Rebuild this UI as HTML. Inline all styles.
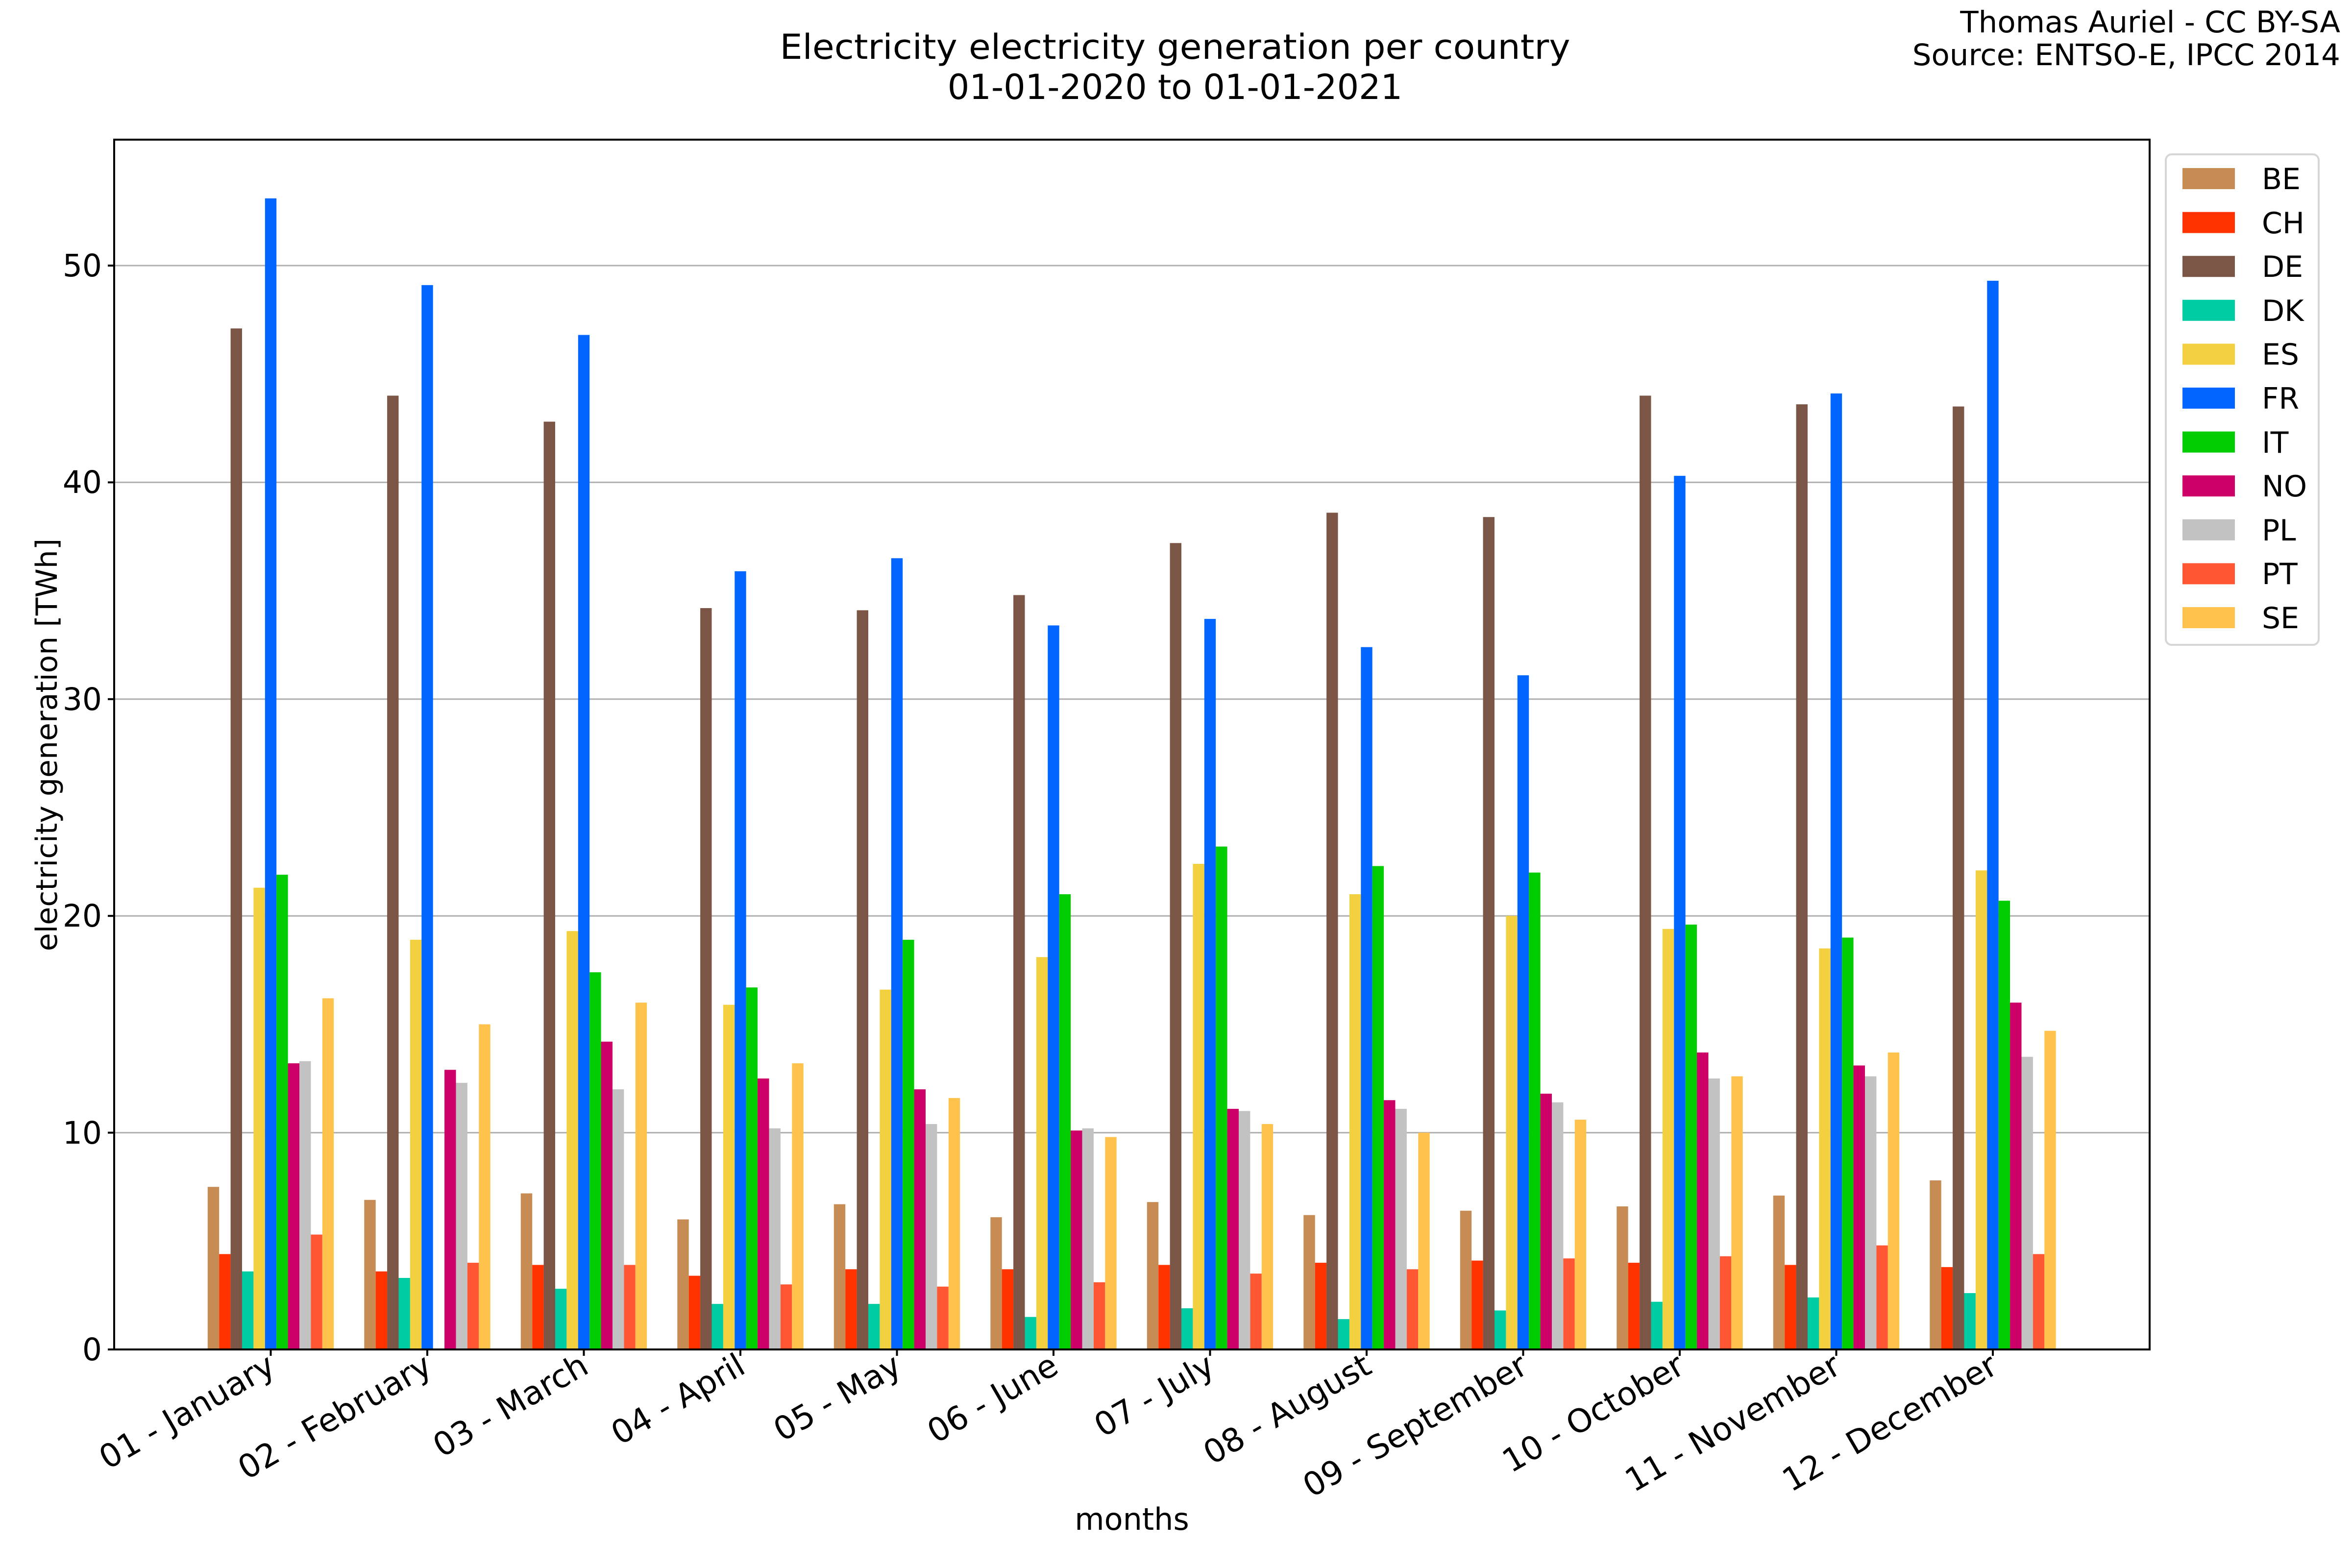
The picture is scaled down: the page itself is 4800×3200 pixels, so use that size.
<!DOCTYPE html>
<html><head><meta charset="utf-8"><style>html,body{margin:0;padding:0;background:#fff}svg{display:block}</style></head>
<body>
<svg id="s" xmlns="http://www.w3.org/2000/svg" width="4800" height="3200" viewBox="0 0 4800 3200" font-family="DejaVu Sans, Liberation Sans, sans-serif">
<rect width="4800" height="3200" fill="#fff"/>
<g stroke="#b0b0b0" stroke-width="3">
<line x1="233" x2="4387" y1="2311.6" y2="2311.6"/>
<line x1="233" x2="4387" y1="1869.2" y2="1869.2"/>
<line x1="233" x2="4387" y1="1426.8" y2="1426.8"/>
<line x1="233" x2="4387" y1="984.4" y2="984.4"/>
<line x1="233" x2="4387" y1="542" y2="542"/>
</g>
<g id="bars"></g>
<rect x="233" y="285" width="4154" height="2469" fill="none" stroke="#000" stroke-width="4"/>
<g stroke="#000" stroke-width="4">
<line x1="220" x2="233" y1="2754" y2="2754"/><line x1="220" x2="233" y1="2311.6" y2="2311.6"/><line x1="220" x2="233" y1="1869.2" y2="1869.2"/><line x1="220" x2="233" y1="1426.8" y2="1426.8"/><line x1="220" x2="233" y1="984.4" y2="984.4"/><line x1="220" x2="233" y1="542" y2="542"/>
</g>
<g font-size="63" text-anchor="end">
<text x="208" y="2776">0</text><text x="208" y="2334">10</text><text x="208" y="1891">20</text><text x="208" y="1449">30</text><text x="208" y="1006">40</text><text x="208" y="564">50</text>
</g>
<g id="xt" font-size="66" text-anchor="end">
<text transform="translate(566,2800) rotate(-30)">01 - January</text>
<text transform="translate(886,2800) rotate(-30)">02 - February</text>
<text transform="translate(1205,2800) rotate(-30)">03 - March</text>
<text transform="translate(1525,2800) rotate(-30)">04 - April</text>
<text transform="translate(1844,2800) rotate(-30)">05 - May</text>
<text transform="translate(2164,2800) rotate(-30)">06 - June</text>
<text transform="translate(2483,2800) rotate(-30)">07 - July</text>
<text transform="translate(2803,2800) rotate(-30)">08 - August</text>
<text transform="translate(3122,2800) rotate(-30)">09 - September</text>
<text transform="translate(3442,2800) rotate(-30)">10 - October</text>
<text transform="translate(3761,2800) rotate(-30)">11 - November</text>
<text transform="translate(4081,2800) rotate(-30)">12 - December</text>
</g>
<g stroke="#000" stroke-width="4" id="xtk"></g>
<text x="2310" y="3122" font-size="62" text-anchor="middle">months</text>
<text transform="translate(116,1520) rotate(-90)" font-size="60" text-anchor="middle">electricity generation [TWh]</text>
<text x="2398" y="120" font-size="70" text-anchor="middle" textLength="1613" lengthAdjust="spacingAndGlyphs">Electricity electricity generation per country</text>
<text x="2398" y="202" font-size="70" text-anchor="middle">01-01-2020 to 01-01-2021</text>
<text x="4776" y="66" font-size="61" text-anchor="end">Thomas Auriel - CC BY-SA</text>
<text x="4776" y="133" font-size="61" text-anchor="end">Source: ENTSO-E, IPCC 2014</text>
<rect x="4420" y="315" width="312" height="1001" rx="12" fill="#fff" stroke="#d6d6d6" stroke-width="4"/>
<g id="leg"></g>
<g font-size="60">
<text x="4616" y="386">BE</text><text x="4616" y="476">CH</text><text x="4616" y="565">DE</text><text x="4616" y="655">DK</text><text x="4616" y="744">ES</text><text x="4616" y="834">FR</text><text x="4616" y="924">IT</text><text x="4616" y="1013">NO</text><text x="4616" y="1103">PL</text><text x="4616" y="1192">PT</text><text x="4616" y="1282">SE</text>
</g>
</svg>
<script>
var C=["#c68c53","#ff3300","#7b5646","#00cca3","#f3d03f","#0066ff","#00cc00","#cc0066","#c2c2c2","#ff5733","#ffc24d"];
var D=[
[7.5,4.4,47.1,3.6,21.3,53.1,21.9,13.2,13.3,5.3,16.2],
[6.9,3.6,44.0,3.3,18.9,49.1,0,12.9,12.3,4.0,15.0],
[7.2,3.9,42.8,2.8,19.3,46.8,17.4,14.2,12.0,3.9,16.0],
[6.0,3.4,34.2,2.1,15.9,35.9,16.7,12.5,10.2,3.0,13.2],
[6.7,3.7,34.1,2.1,16.6,36.5,18.9,12.0,10.4,2.9,11.6],
[6.1,3.7,34.8,1.5,18.1,33.4,21.0,10.1,10.2,3.1,9.8],
[6.8,3.9,37.2,1.9,22.4,33.7,23.2,11.1,11.0,3.5,10.4],
[6.2,4.0,38.6,1.4,21.0,32.4,22.3,11.5,11.1,3.7,10.0],
[6.4,4.1,38.4,1.8,20.0,31.1,22.0,11.8,11.4,4.2,10.6],
[6.6,4.0,44.0,2.2,19.4,40.3,19.6,13.7,12.5,4.3,12.6],
[7.1,3.9,43.6,2.4,18.5,44.1,19.0,13.1,12.6,4.8,13.7],
[7.8,3.8,43.5,2.6,22.1,49.3,20.7,16.0,13.5,4.4,14.7]];
var NS="http://www.w3.org/2000/svg",b=document.getElementById("bars"),t=document.getElementById("xtk"),l=document.getElementById("leg");
function el(p,n,a){var e=document.createElementNS(NS,n);for(var k in a)e.setAttribute(k,a[k]);p.appendChild(e);}
var w=23.4;
for(var i=0;i<12;i++){var cx=233+319.5*(i+1);
 el(t,"line",{x1:cx,x2:cx,y1:2754,y2:2767});
 for(var k=0;k<11;k++){var v=D[i][k];if(!v)continue;var h=v*44.24;
  el(b,"rect",{x:cx+(k-5)*w-w/2,y:2754-h,width:w,height:h,fill:C[k]});}}
for(var k=0;k<11;k++)el(l,"rect",{x:4454,y:343+k*89.6,width:107,height:43,fill:C[k]});
</script>
</body></html>
